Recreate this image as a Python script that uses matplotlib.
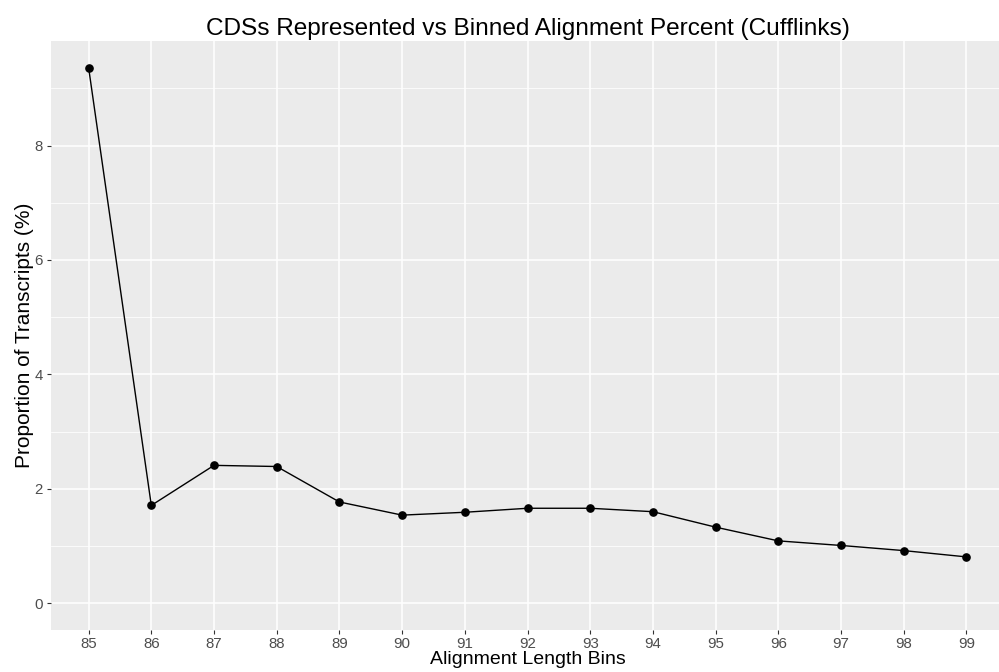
import matplotlib
matplotlib.use("Agg")
import matplotlib.pyplot as plt
from matplotlib.ticker import MultipleLocator

plt.rcParams['font.family'] = ['Liberation Sans', 'DejaVu Sans']

# alignment length bins and proportion of transcripts (%)
bins = ['85', '86', '87', '88', '89', '90', '91', '92', '93', '94', '95', '96', '97', '98', '99']
proportion = [9.36, 1.71, 2.41, 2.39, 1.77, 1.54, 1.59, 1.66, 1.66, 1.60, 1.33, 1.09, 1.01, 0.92, 0.81]

fig = plt.figure(figsize=(9.99, 6.72), dpi=100)
# panel runs slightly past the right edge, as in the original
ax = fig.add_axes([51 / 999, 42 / 672, 953 / 999, 589 / 672])
ax.set_facecolor('#EBEBEB')

x = list(range(len(bins)))
ax.plot(x, proportion, color='black', lw=1.0, zorder=3)
ax.plot(x, proportion, 'o', color='black', ms=5.2, zorder=4)

ymax = max(proportion)
pad = ymax * 0.05
ax.set_ylim(-pad, ymax + pad)
ax.set_xlim(-0.6, len(bins) - 1 + 0.6)

ax.set_xticks(x)
ax.set_xticklabels(bins)
ax.yaxis.set_major_locator(MultipleLocator(2))
ax.yaxis.set_minor_locator(MultipleLocator(1))

ax.grid(which='major', color='white', lw=1.1, zorder=0)
ax.grid(which='minor', axis='y', color='white', lw=0.55, zorder=0)
ax.set_axisbelow(True)
for s in ax.spines.values():
    s.set_visible(False)

ax.tick_params(which='major', length=3, width=0.8, color='#333333',
               labelcolor='#4D4D4D', labelsize=10.8, pad=3)
ax.tick_params(axis='x', which='major', pad=2)
ax.tick_params(which='minor', length=0)

ax.set_xlabel('Alignment Length Bins', fontsize=14, labelpad=0)
ax.set_ylabel('Proportion of Transcripts (%)', fontsize=15, labelpad=0)
ax.set_title('CDSs Represented vs Binned Alignment Percent (Cufflinks)', fontsize=17.6, pad=4)

fig.savefig('out.png', dpi=100)
